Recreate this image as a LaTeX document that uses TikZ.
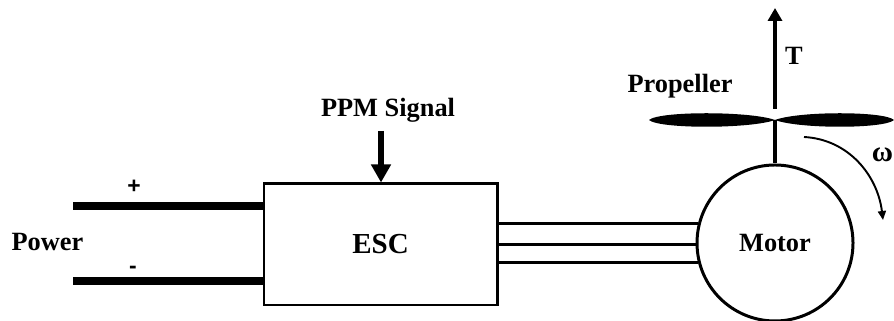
\documentclass[tikz,border=0pt]{standalone}
\usepackage{fontspec}
\setmainfont{Liberation Serif}
\setsansfont{Liberation Sans}
\usetikzlibrary{arrows.meta}

\tikzset{
    label text/.style={font=\fontsize{15}{18}\selectfont\bfseries, inner sep=0pt},
    sign text/.style={font=\fontsize{13}{16}\selectfont\sffamily\bfseries, inner sep=0pt},
    wire/.style={line width=1.7pt},
    power wire/.style={line width=4.6pt},
}

\begin{document}
\begin{tikzpicture}

\useasboundingbox (0, 0) rectangle (17.88, 6.42);

\node[wire, draw, minimum width=4.66cm, minimum height=2.42cm, label text, font=\fontsize{16.5}{20}\selectfont\bfseries] (esc) at (7.61, 1.53) {ESC};
\node[wire, draw, circle, minimum size=3.12cm, inner sep=0pt, label text] (motor) at (15.5, 1.56) {Motor};

\coordinate (plus) at (1.46, 2.30);
\coordinate (minus) at (1.46, 0.80);
\draw[power wire] (plus) -- (plus -| esc.west);
\draw[power wire] (minus) -- (minus -| esc.west);

\node[label text] (power) at (0.95, 1.57) {Power};
\node[sign text] (plussign) at (2.68, 2.68) {+};
\node[sign text] (minussign) at (2.66, 1.02) {-};

\draw[wire] (esc.east |- motor.166.7) -- (motor.166.7);
\draw[wire] (esc.east |- motor.181) -- (motor.181);
\draw[wire] (esc.east |- motor.194) -- (motor.194);

\node[label text] (ppm) at (7.76, 4.22) {PPM Signal};
\coordinate (ppmstart) at (7.62, 3.80);
\draw[-{Triangle[length=0.36cm, width=0.38cm]}, line width=3.4pt] (ppmstart) -- (ppmstart |- esc.north);

\coordinate (hub) at (15.5, 4.02);
\coordinate (thrustbase) at (15.5, 4.24);
\coordinate (thrusttip) at (15.5, 6.26);
\draw[wire, line width=2.8pt] (motor.north) -- (hub);
\draw[-{Triangle[length=0.26cm, width=0.28cm]}, line width=2.6pt] (thrustbase) -- (thrusttip);

\foreach \tip in {-2.52, 2.38} {
    \fill (hub) .. controls +(0.2 * \tip, 0.18) and +(-0.08 * \tip, 0.18) .. ([xshift=\tip cm]hub)
        .. controls +(-0.08 * \tip, -0.18) and +(0.2 * \tip, -0.18) .. (hub);
}

\node[label text] (propeller) at (13.60, 4.70) {Propeller};
\node[label text] (thrust) at (15.88, 5.30) {T};

\coordinate (spinstart) at (16.08, 3.68);
\coordinate (spinend) at (17.66, 2.02);
\draw[-{Triangle[length=0.18cm, width=0.16cm]}, line width=1.1pt] (spinstart) to[out=-3, in=97] (spinend);
\node[label text, font=\fontsize{16.5}{20}\selectfont\bfseries] (omega) at (17.65, 3.32) {ω};

\end{tikzpicture}
\end{document}
